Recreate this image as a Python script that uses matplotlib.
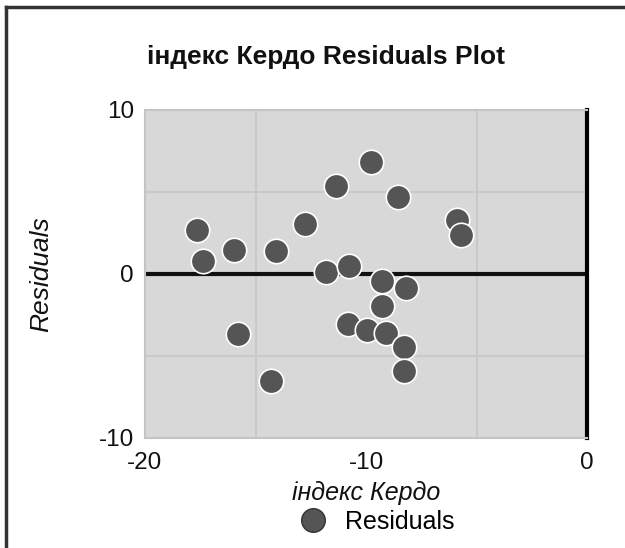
import matplotlib
matplotlib.use('Agg')
import matplotlib.pyplot as plt
from matplotlib.lines import Line2D

plt.rcParams['font.family'] = ['Liberation Sans', 'DejaVu Sans']

# residuals
kerdo = [-17.65, -17.38, -15.97, -14.07, -12.76, -11.36, -9.77, -8.55, -5.88, -5.70,
         -11.81, -10.77, -9.28, -8.19, -9.28, -10.81, -9.95, -9.10, -8.28, -8.28,
         -15.79, -14.30]
resid = [2.68, 0.79, 1.46, 1.40, 3.05, 5.37, 6.83, 4.70, 3.29, 2.38,
         0.12, 0.49, -0.43, -0.85, -1.95, -3.05, -3.41, -3.60, -4.45, -5.91,
         -3.66, -6.52]
xticks = [-20, -10, 0]
yticks = [-10, 0, 10]

fig = plt.figure(figsize=(6.25, 5.48), dpi=100)
ax = fig.add_axes([145/625, 1 - 438/548, 442/625, 328/548])
ax.set_facecolor('#d8d8d8')

ax.set_xlim(-20, 0)
ax.set_ylim(-10, 10)
ax.set_xticks(xticks, [str(t) for t in xticks])
ax.set_yticks(yticks, [str(t) for t in yticks])
ax.set_xticks([-15, -5], minor=True)
ax.set_yticks([-5, 5], minor=True)
ax.grid(which='minor', color='#c9c9c9', lw=1.5)
ax.tick_params(which='both', length=0, labelsize=17.5, colors='#111111')
ax.tick_params(axis='x', pad=10)
ax.tick_params(axis='y', pad=8)
ax.set_axisbelow(True)

for s in ['left', 'bottom', 'top']:
    ax.spines[s].set_color('#c4c4c4')
    ax.spines[s].set_linewidth(1.5)
ax.spines['right'].set_color('black')
ax.spines['right'].set_linewidth(3)

ax.axhline(0, color='#111111', lw=3, zorder=2)

ax.scatter(kerdo, resid, s=310, c='#555555', edgecolors='white', linewidths=1.2, zorder=3)

fig.text(326/625, 1 - 57/548, 'індекс Кердо Residuals Plot', fontsize=19,
         fontweight='bold', ha='center', va='center', color='#111111')
ax.set_xlabel('індекс Кердо', fontsize=18, style='italic', color='#111111')
ax.set_ylabel('Residuals', fontsize=19, style='italic', color='#111111')
ax.xaxis.set_label_coords((366 - 145)/442, (438 - 481)/328)
ax.yaxis.set_label_coords((53 - 145)/442, 0.5)

handle = Line2D([], [], ls='none', marker='o', ms=17, mfc='#555555', mec='#333333')
fig.legend([handle], ['Residuals'], loc='center', bbox_to_anchor=(376/625, 1 - 522/548),
           frameon=False, fontsize=18, handletextpad=0.7, handlelength=1.2)

# frame lines on top and left, as in the scan
fig.add_artist(Line2D([6/625, 6/625], [0, 1 - 7/548], color='#333333', lw=2.5))
fig.add_artist(Line2D([6/625, 1], [1 - 7/548, 1 - 7/548], color='#333333', lw=2.5))

fig.savefig('out.png', dpi=100)
